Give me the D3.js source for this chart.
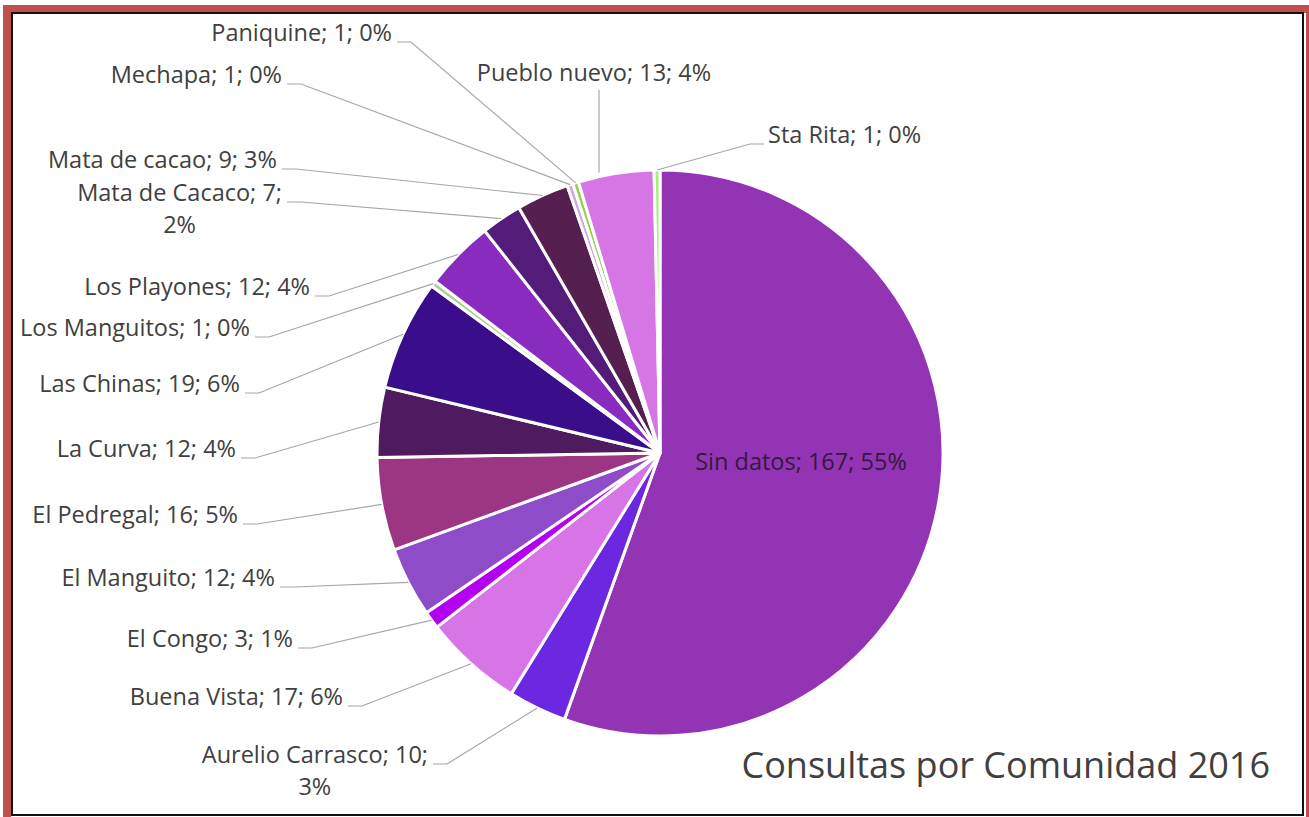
<!DOCTYPE html>
<html>
<head>
<meta charset="utf-8">
<script src="https://cdn.jsdelivr.net/npm/d3@7"></script>
<style>
  body { margin: 0; background: #fff; }
  svg { display: block; }
</style>
</head>
<body>
<div id="chart"></div>
<script>
// data
const categories = ['Sin datos', 'Aurelio Carrasco', 'Buena Vista', 'El Congo', 'El Manguito',
  'El Pedregal', 'La Curva', 'Las Chinas', 'Los Manguitos', 'Los Playones', 'Mata de Cacaco',
  'Mata de cacao', 'Mechapa', 'Paniquine', 'Pueblo nuevo', 'Sta Rita'];
const consultas = [167, 10, 17, 3, 12, 16, 12, 19, 1, 12, 7, 9, 1, 1, 13, 1];
const sliceColors = ['#9334b4', '#6c27e0', '#d775e6', '#b400f0', '#8e4cc8', '#9c3582',
  '#4e1c5e', '#3a0e8a', '#a9cf9a', '#8a2bc0', '#521c78', '#55204f', '#cfa6e0', '#92d050',
  '#d676e4', '#a6f07a'];
const chartTitle = 'Consultas por Comunidad 2016';

// label placement (x = right end of text for left labels, y = text middle)
const labelLayout = {
  'Aurelio Carrasco': { x: 428, y: 757, side: 'left', wrap: true },
  'Buena Vista': { x: 343, y: 699, side: 'left' },
  'El Congo': { x: 293, y: 641, side: 'left' },
  'El Manguito': { x: 275, y: 580, side: 'left' },
  'El Pedregal': { x: 238, y: 517, side: 'left' },
  'La Curva': { x: 236, y: 451, side: 'left' },
  'Las Chinas': { x: 240, y: 386, side: 'left' },
  'Los Manguitos': { x: 250, y: 330, side: 'left' },
  'Los Playones': { x: 310, y: 289, side: 'left' },
  'Mata de Cacaco': { x: 282, y: 195, side: 'left', wrap: true },
  'Mata de cacao': { x: 277, y: 162, side: 'left' },
  'Mechapa': { x: 282, y: 77, side: 'left' },
  'Paniquine': { x: 392, y: 35, side: 'left' },
  'Pueblo nuevo': { x: 594, y: 75, side: 'top' },
  'Sta Rita': { x: 768, y: 137, side: 'right' },
};

const W = 1309, H = 817;
const cx = 660, cy = 453, R = 283;
const total = d3.sum(consultas);
const rows = categories.map((c, i) => ({ name: c, value: consultas[i], color: sliceColors[i] }));

const svg = d3.select('#chart').append('svg').attr('width', W).attr('height', H);

// frame
svg.append('rect').attr('x', 7).attr('y', 9).attr('width', W - 6).attr('height', H - 4)
  .attr('fill', 'none').attr('stroke', '#c0504d').attr('stroke-width', 8);
svg.append('rect').attr('x', 12).attr('y', 13).attr('width', 1291).attr('height', 802)
  .attr('fill', '#fff').attr('stroke', '#111').attr('stroke-width', 2);

const pie = d3.pie().sort(null).value((d) => d.value);
const arc = d3.arc().innerRadius(0).outerRadius(R);
const arcs = pie(rows);

const g = svg.append('g').attr('transform', `translate(${cx},${cy})`);
g.selectAll('path')
  .data(arcs)
  .join('path')
  .attr('d', arc)
  .attr('fill', (d) => d.data.color)
  .attr('stroke', '#fff')
  .attr('stroke-width', 3)
  .attr('stroke-linejoin', 'round');

const fmt = (d) => `${d.data.name}; ${d.data.value}; ${Math.round((d.data.value / total) * 100)}%`;
const font = '"Open Sans", sans-serif';
const fs = 23.5;

// inside label for biggest slice
const big = arcs[0];
svg.append('text')
  .attr('x', 801).attr('y', cy + 11)
  .attr('text-anchor', 'middle').attr('dominant-baseline', 'middle')
  .attr('font-family', font).attr('font-size', fs).attr('fill', '#35183f')
  .text(fmt(big));

// outside labels + leader lines
const leaders = svg.append('g').attr('fill', 'none').attr('stroke', '#a6a6a6').attr('stroke-width', 1.2);
const labels = svg.append('g').attr('font-family', font).attr('font-size', fs)
  .attr('fill', '#404040');

arcs.slice(1).forEach((d) => {
  const L = labelLayout[d.data.name];
  const mid = (d.startAngle + d.endAngle) / 2;
  const px = cx + R * Math.sin(mid);
  const py = cy - R * Math.cos(mid);
  const txt = fmt(d);
  if (L.side === 'left') {
    if (L.wrap) {
      const parts = txt.split('; ');
      const line1 = parts.slice(0, 2).join('; ') + ';';
      const t1 = labels.append('text').attr('x', L.x).attr('y', L.y)
        .attr('text-anchor', 'end').attr('dominant-baseline', 'middle').text(line1);
      const w1 = t1.node().getComputedTextLength();
      labels.append('text').attr('x', L.x - w1 / 2).attr('y', L.y + 32)
        .attr('text-anchor', 'middle').attr('dominant-baseline', 'middle').text(parts[2]);
    } else {
      labels.append('text').attr('x', L.x).attr('y', L.y)
        .attr('text-anchor', 'end').attr('dominant-baseline', 'middle').text(txt);
    }
    const sx = L.x + 5, sy = L.y + 7;
    leaders.append('path').attr('d', d3.line()([[sx, sy], [sx + 14, sy], [px, py]]));
  } else if (L.side === 'right') {
    labels.append('text').attr('x', L.x).attr('y', L.y)
      .attr('text-anchor', 'start').attr('dominant-baseline', 'middle').text(txt);
    const sx = L.x - 4, sy = L.y + 7;
    leaders.append('path').attr('d', d3.line()([[sx, sy], [sx - 14, sy], [px, py]]));
  } else {
    labels.append('text').attr('x', L.x).attr('y', L.y)
      .attr('text-anchor', 'middle').attr('dominant-baseline', 'middle').text(txt);
    leaders.append('path').attr('d', d3.line()([[L.x + 5, L.y + 15], [L.x + 5, py - 1]]));
  }
});

// title
svg.append('text')
  .attr('x', 1270).attr('y', 768)
  .attr('text-anchor', 'end').attr('dominant-baseline', 'middle')
  .attr('font-family', font).attr('font-size', 36).attr('fill', '#404040')
  .text(chartTitle);
</script>
</body>
</html>
